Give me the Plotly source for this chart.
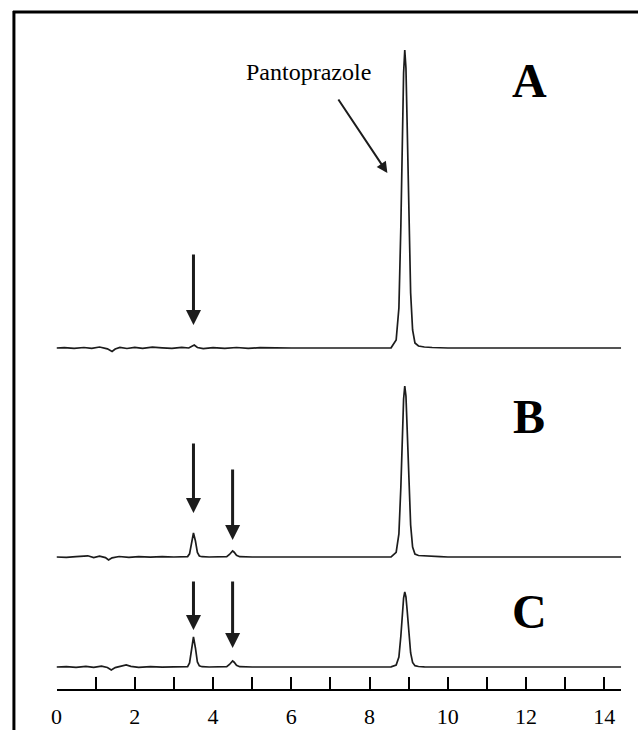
import plotly.graph_objects as go

# ---------------- data ----------------
# retention time (min) and detector signal (arbitrary units) for the three chromatograms
time_A = [0.00, 0.20, 0.45, 0.70, 0.90, 1.10, 1.30, 1.42, 1.50, 1.62, 1.80, 2.00, 2.20, 2.45,
          2.70, 2.95, 3.20, 3.38, 3.46, 3.52, 3.60, 3.75, 4.00, 4.30, 4.60, 4.90, 5.20, 5.60,
          6.00, 7.00, 8.00, 8.55, 8.68, 8.75, 8.80, 8.84, 8.87, 8.90, 8.93, 8.96, 9.00, 9.05,
          9.10, 9.16, 9.25, 9.40, 9.60, 10.0, 11.0, 12.0, 13.0, 14.43]
signal_A = [0.0, 0.3, -0.4, 0.5, -0.3, 1.0, -0.8, -3.5, -1.0, 0.6, -0.5, 0.7, -0.4, 0.8,
            0.2, -0.3, 0.6, 0.0, 1.8, 3.0, 0.5, -0.6, 0.4, -0.3, 0.5, -0.4, 0.3, -0.2,
            0.0, 0.0, 0.0, 0.2, 8.0, 40.0, 122.0, 216.0, 275.0, 298.0, 280.0, 225.0, 140.0, 55.0,
            18.0, 5.0, 2.0, 1.0, 0.5, 0.0, 0.0, 0.0, 0.0, 0.0]

time_B = [0.00, 0.25, 0.50, 0.80, 0.95, 1.10, 1.25, 1.33, 1.42, 1.60, 1.85, 2.10, 2.40, 2.70,
          3.00, 3.25, 3.35, 3.40, 3.45, 3.50, 3.55, 3.60, 3.65, 3.72, 3.90, 4.20, 4.35, 4.42,
          4.47, 4.50, 4.54, 4.60, 4.68, 5.00, 6.00, 7.00, 8.00, 8.55, 8.68, 8.75, 8.80, 8.84,
          8.87, 8.90, 8.93, 8.96, 9.00, 9.05, 9.10, 9.16, 9.25, 9.40, 9.60, 9.80, 10.0, 11.0,
          12.0, 13.0, 14.43]
signal_B = [0.0, -0.3, 0.4, 1.2, -0.5, 0.8, -0.6, -3.0, -0.8, 0.5, -0.3, 0.4, -0.2, 0.3,
            0.0, 0.0, 0.4, 3.2, 14.6, 24.0, 16.0, 4.5, 1.0, 0.3, 0.0, 0.0, 0.3, 2.5,
            5.2, 6.0, 4.8, 1.7, 0.3, 0.0, 0.0, 0.0, 0.0, 0.2, 4.6, 23.0, 70.0, 124.0,
            158.0, 171.0, 161.0, 129.0, 80.0, 32.0, 10.0, 3.0, 1.5, 1.0, 0.8, 0.3, 0.0, 0.0,
            0.0, 0.0, 0.0]

time_C = [0.00, 0.25, 0.50, 0.75, 0.95, 1.15, 1.30, 1.40, 1.50, 1.65, 1.78, 1.90, 2.10, 2.40,
          2.70, 3.00, 3.25, 3.35, 3.40, 3.45, 3.50, 3.55, 3.60, 3.65, 3.72, 3.90, 4.20, 4.35,
          4.42, 4.47, 4.50, 4.54, 4.60, 4.68, 5.00, 6.00, 7.00, 8.00, 8.55, 8.68, 8.75, 8.80,
          8.84, 8.87, 8.90, 8.93, 8.96, 9.00, 9.05, 9.10, 9.16, 9.25, 9.40, 10.0, 11.0, 12.0,
          13.0, 14.43]
signal_C = [0.0, 0.4, -0.3, 0.6, -0.4, 0.8, -0.5, -3.0, -0.6, 0.8, 2.0, 0.6, -0.3, 0.4,
            -0.2, 0.2, 0.0, 0.4, 4.0, 18.0, 30.0, 19.0, 5.0, 1.2, 0.3, 0.0, 0.0, 0.3,
            2.5, 5.2, 6.0, 4.8, 1.7, 0.3, 0.0, 0.0, 0.0, 0.0, 0.2, 2.0, 10.0, 31.0,
            54.0, 69.0, 75.0, 70.0, 57.0, 35.0, 14.0, 4.5, 1.3, 0.5, 0.2, 0.0, 0.0, 0.0,
            0.0, 0.0]

x_tick_values = list(range(0, 15))
x_tick_labels = [str(v) if v % 2 == 0 else "" for v in x_tick_values]
panel_labels = ["A", "B", "C"]
peak_label = "Pantoprazole"
arrow_times = {"A": [3.5], "B": [3.5, 4.5], "C": [3.5, 4.5]}

# ---------------- layout helpers (window pixel -> paper) ----------------
W, H = 638, 730
def px(p):
    return p / W
def py(p):
    return 1 - p / H

LINE = "#1c1c1c"
SERIF = "Liberation Serif, Times New Roman, serif"

# panel geometry: baseline pixel, y-range (1 unit = 1 px)
panels = {
    "A": dict(base=348, lo=-20, hi=320, axis="y"),
    "B": dict(base=557, lo=-20, hi=200, axis="y2"),
    "C": dict(base=667, lo=-15, hi=100, axis="y3"),
}

fig = go.Figure()
series = {"A": (time_A, signal_A), "B": (time_B, signal_B), "C": (time_C, signal_C)}
for name in panel_labels:
    t, s = series[name]
    fig.add_trace(go.Scatter(x=t, y=s, mode="lines", yaxis=panels[name]["axis"],
                             line=dict(color=LINE, width=1.7), hoverinfo="skip",
                             showlegend=False))

layout_axes = {}
for i, name in enumerate(panel_labels):
    p = panels[name]
    key = "yaxis" if i == 0 else f"yaxis{i+1}"
    layout_axes[key] = dict(domain=[py(p["base"] - p["lo"]), py(p["base"] - p["hi"])],
                            range=[p["lo"], p["hi"]], visible=False, fixedrange=True,
                            anchor="x")

fig.update_layout(
    width=W, height=H,
    margin=dict(l=0, r=0, t=0, b=0),
    paper_bgcolor="white", plot_bgcolor="rgba(0,0,0,0)",
    hovermode=False,
    xaxis=dict(domain=[px(51), px(621)], range=[0, 14.43], anchor="free", position=py(690),
               tickvals=x_tick_values, ticktext=x_tick_labels,
               ticks="inside", ticklen=12, tickwidth=2, tickcolor="black",
               showline=True, linewidth=2, linecolor="black", fixedrange=True,
               showgrid=False, zeroline=False, ticklabelstandoff=7,
               tickfont=dict(family=SERIF, size=22, color="black")),
    **layout_axes,
)

# frame (top and left edges; right and bottom run off the picture)
fig.add_shape(type="line", xref="paper", yref="paper", x0=px(7), x1=1.02, y0=py(12), y1=py(12),
              line=dict(color="black", width=3))
fig.add_shape(type="line", xref="paper", yref="paper", x0=px(8), x1=px(8), y0=py(11), y1=-0.02,
              line=dict(color="black", width=3))

# panel letters
letter_pos = {"A": 80, "B": 416, "C": 611}
for name in panel_labels:
    fig.add_annotation(x=px(528), y=py(letter_pos[name]), xref="paper", yref="paper",
                       text=f"<b>{name}</b>", showarrow=False, xanchor="center", yanchor="middle",
                       font=dict(family=SERIF, size=48, color="black"))

# peak label and its arrow
fig.add_annotation(x=px(305), y=py(72), xref="paper", yref="paper", text=peak_label,
                   showarrow=False, xanchor="center", yanchor="middle",
                   font=dict(family=SERIF, size=24, color="black"))
fig.add_annotation(x=px(385), y=py(173), xref="paper", yref="paper", text="",
                   showarrow=True, ax=-50, ay=-75, axref="pixel", ayref="pixel",
                   arrowhead=2, arrowsize=1.1, arrowwidth=2, arrowcolor=LINE)

# impurity arrows: (tip height above baseline, shaft length) per panel
arrow_geom = {"A": [(23, 72)], "B": [(44, 71), (17, 72)], "C": [(37, 50), (19, 68)]}
for name in panel_labels:
    yref = panels[name]["axis"]
    for t, (tip, length) in zip(arrow_times[name], arrow_geom[name]):
        fig.add_annotation(x=t, y=tip, xref="x", yref=yref, text="", showarrow=True,
                           ax=0, ay=-length, axref="pixel", ayref="pixel",
                           arrowhead=2, arrowsize=1.0, arrowwidth=3, arrowcolor=LINE)

# remove the default page margin so the 638x730 figure fills the window exactly
fig.write_html("out.html",
               config={"displayModeBar": False, "staticPlot": True},
               post_script="document.body.style.margin='0';document.body.style.overflow='hidden';")
